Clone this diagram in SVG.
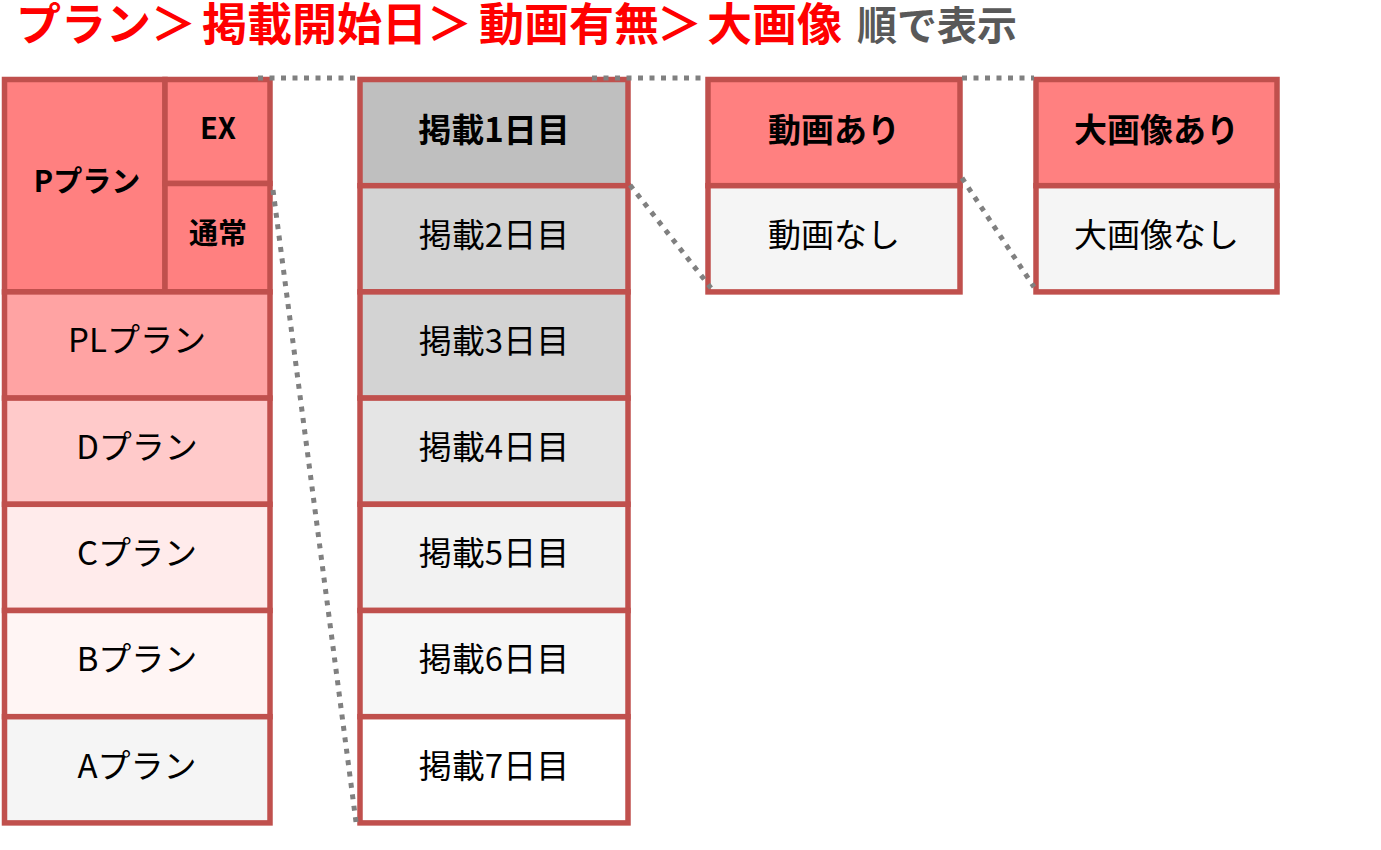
<svg xmlns="http://www.w3.org/2000/svg" width="1381" height="850" viewBox="0 0 1381 850">
<style>
text{font-family:"Noto Sans CJK JP","Noto Sans",sans-serif;text-anchor:middle;fill:#000}
.c{stroke:#C0504D;stroke-width:5.5}
.r{font-size:33px}
.b{font-size:33px;font-weight:bold}
.s{font-size:29px;font-weight:bold}
.d{fill:none;stroke:#808080;stroke-width:5;stroke-dasharray:5 6.5}
.t1{font-size:45px;font-weight:bold;fill:#FF0000;text-anchor:start}
.t2{font-size:40px;font-weight:bold;fill:#595959;text-anchor:start}
</style>
<rect width="1381" height="850" fill="#fff"/>
<g id="title">
<text class="t1" y="41"><tspan x="16">プラン＞</tspan><tspan x="202">掲載開始日</tspan><tspan x="427">＞</tspan><tspan x="479">動画有無</tspan><tspan x="657">＞</tspan><tspan x="707">大画像</tspan></text>
<text class="t2" x="857" y="40">順で表示</text>
</g>
<g id="plan-p">
<rect class="c" x="4.5" y="79.5" width="160.5" height="212.4" fill="#FF8080"/>
<text class="s" x="87" y="192">Pプラン</text>
</g>
<g id="plan-ex">
<rect class="c" x="165" y="79.5" width="105" height="104" fill="#FF8080"/>
<text class="s" x="218" y="139">EX</text>
</g>
<g id="plan-normal">
<rect class="c" x="165" y="183.5" width="105" height="108.4" fill="#FF8080"/>
<text class="s" x="218" y="244">通常</text>
</g>
<g id="plan-pl">
<rect class="c" x="4.5" y="291.9" width="265.5" height="106.2" fill="#FFA3A3"/>
<text class="r" x="137" y="352">PLプラン</text>
</g>
<g id="plan-d">
<rect class="c" x="4.5" y="398.1" width="265.5" height="106.2" fill="#FFCACA"/>
<text class="r" x="137" y="459">Dプラン</text>
</g>
<g id="plan-c">
<rect class="c" x="4.5" y="504.3" width="265.5" height="106.2" fill="#FFEBEB"/>
<text class="r" x="137" y="565">Cプラン</text>
</g>
<g id="plan-b">
<rect class="c" x="4.5" y="610.5" width="265.5" height="106.2" fill="#FFF5F4"/>
<text class="r" x="137" y="671">Bプラン</text>
</g>
<g id="plan-a">
<rect class="c" x="4.5" y="716.7" width="265.5" height="106.2" fill="#F5F5F5"/>
<text class="r" x="137" y="778">Aプラン</text>
</g>
<g id="day1">
<rect class="c" x="360" y="79.5" width="268" height="106.2" fill="#BFBFBF"/>
<text class="b" x="494" y="142">掲載1日目</text>
</g>
<g id="day2">
<rect class="c" x="360" y="185.7" width="268" height="106.2" fill="#D3D3D3"/>
<text class="r" x="494" y="247">掲載2日目</text>
</g>
<g id="day3">
<rect class="c" x="360" y="291.9" width="268" height="106.2" fill="#D3D3D3"/>
<text class="r" x="494" y="353">掲載3日目</text>
</g>
<g id="day4">
<rect class="c" x="360" y="398.1" width="268" height="106.2" fill="#E5E5E5"/>
<text class="r" x="494" y="459">掲載4日目</text>
</g>
<g id="day5">
<rect class="c" x="360" y="504.3" width="268" height="106.2" fill="#F2F2F2"/>
<text class="r" x="494" y="565">掲載5日目</text>
</g>
<g id="day6">
<rect class="c" x="360" y="610.5" width="268" height="106.2" fill="#F7F7F7"/>
<text class="r" x="494" y="671">掲載6日目</text>
</g>
<g id="day7">
<rect class="c" x="360" y="716.7" width="268" height="106.2" fill="#FFFFFF"/>
<text class="r" x="494" y="778">掲載7日目</text>
</g>
<g id="video-yes">
<rect class="c" x="708" y="79.5" width="252" height="106.2" fill="#FF8080"/>
<text class="b" x="834" y="142">動画あり</text>
</g>
<g id="video-no">
<rect class="c" x="708" y="185.7" width="252" height="106.2" fill="#F5F5F5"/>
<text class="r" x="834" y="247">動画なし</text>
</g>
<g id="bigimg-yes">
<rect class="c" x="1036" y="79.5" width="241" height="106.2" fill="#FF8080"/>
<text class="b" x="1156.5" y="142">大画像あり</text>
</g>
<g id="bigimg-no">
<rect class="c" x="1036" y="185.7" width="241" height="106.2" fill="#F5F5F5"/>
<text class="r" x="1156.5" y="247">大画像なし</text>
</g>
<g id="connectors">
<line class="d" x1="258" y1="78" x2="356" y2="78"/>
<line class="d" x1="273" y1="190" x2="356" y2="822"/>
<line class="d" x1="592" y1="78" x2="706" y2="78"/>
<line class="d" x1="630" y1="185" x2="711" y2="288"/>
<line class="d" x1="962" y1="78" x2="1034" y2="78"/>
<line class="d" x1="962" y1="178" x2="1034" y2="287"/>
</g>
</svg>
